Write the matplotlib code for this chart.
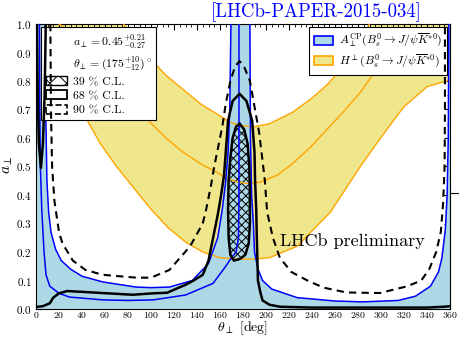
import matplotlib
matplotlib.use('Agg')
import matplotlib.pyplot as plt
from matplotlib.patches import Patch
from matplotlib.lines import Line2D
from matplotlib.ticker import MultipleLocator

plt.rcParams['font.family'] = 'serif'
plt.rcParams['font.serif'] = ['cmr10']
plt.rcParams['mathtext.fontset'] = 'cm'
plt.rcParams['axes.unicode_minus'] = False
plt.rcParams['axes.formatter.use_mathtext'] = True
plt.rcParams['hatch.linewidth'] = 0.7

# H band (yellow): upper edge, central value, lower edge
theta_Hup = [0, 76, 87, 99, 113, 128, 143, 157, 169, 178, 190, 203, 223, 240, 253, 265, 278, 290, 360]
a_Hup = [1.0, 1.0, 0.95, 0.88, 0.82, 0.77, 0.72, 0.685, 0.655, 0.643, 0.64, 0.65, 0.69, 0.74, 0.786, 0.84, 0.91, 1.0, 1.0]
theta_Hmid = [20, 35, 50, 64, 78, 98, 113, 128, 143, 157, 168, 176, 185, 195, 210, 223, 238, 253, 268, 282, 296, 315, 335, 360]
a_Hmid = [1.0, 0.96, 0.91, 0.84, 0.76, 0.66, 0.60, 0.55, 0.51, 0.48, 0.455, 0.445, 0.44, 0.445, 0.47, 0.51, 0.565, 0.63, 0.695, 0.76, 0.84, 0.91, 0.96, 0.99]
theta_Hlow = [8, 20, 30, 42, 56, 70, 84, 100, 115, 130, 145, 160, 175, 190, 203, 227, 256, 282, 305, 320, 340, 357, 360]
a_Hlow = [1.0, 0.87, 0.78, 0.68, 0.58, 0.5, 0.43, 0.35, 0.285, 0.235, 0.2, 0.18, 0.175, 0.175, 0.18, 0.22, 0.34, 0.5, 0.63, 0.71, 0.78, 0.80, 0.80]

# A_CP contours (blue)
theta_L1 = [8, 8.3, 8.7, 9.5, 11, 13, 17, 22, 30, 40, 58, 87, 100, 116, 136, 150, 158, 162, 165, 167, 168.5, 169.5]
a_L1 = [1.0, 0.8, 0.64, 0.45, 0.34, 0.27, 0.21, 0.17, 0.14, 0.115, 0.095, 0.077, 0.075, 0.077, 0.10, 0.16, 0.25, 0.35, 0.45, 0.55, 0.7, 1.0]
theta_L2 = [3, 3.3, 3.8, 5, 7, 8.7, 12, 20, 29, 58, 80, 102, 130, 154, 165, 170, 174, 176, 176.5, 176.5]
a_L2 = [1.0, 0.7, 0.5, 0.35, 0.2, 0.12, 0.08, 0.055, 0.042, 0.032, 0.03, 0.032, 0.049, 0.09, 0.15, 0.18, 0.2, 0.25, 0.4, 1.0]
theta_R1 = [186, 186.5, 187.5, 189, 190, 193, 197, 205, 227, 260, 284, 315, 330, 343, 350, 353, 356, 357.5, 358.5, 359]
a_R1 = [1.0, 0.6, 0.4, 0.3, 0.2, 0.14, 0.1, 0.07, 0.04, 0.028, 0.025, 0.03, 0.045, 0.08, 0.13, 0.18, 0.28, 0.4, 0.6, 1.0]

# likelihood contours
theta_39 = [177, 181, 184, 185.5, 186, 186, 185, 182, 177, 172, 169, 167.5, 167, 167.5, 169, 171, 174, 177]
a_39 = [0.65, 0.63, 0.58, 0.5, 0.4, 0.3, 0.23, 0.19, 0.175, 0.17, 0.19, 0.25, 0.35, 0.45, 0.53, 0.6, 0.64, 0.65]
theta_68 = [0, 6, 12, 15, 20, 27, 41, 58, 84, 102, 114, 130, 137, 145, 150, 154, 158, 161, 163.5, 165, 167, 171, 177, 183, 188, 190, 190.5, 191.5, 192, 193, 195, 197, 203, 212, 240, 300, 340, 355, 360]
a_68 = [0.007, 0.01, 0.02, 0.04, 0.055, 0.063, 0.06, 0.056, 0.05, 0.055, 0.057, 0.085, 0.1, 0.12, 0.17, 0.25, 0.33, 0.4, 0.47, 0.55, 0.66, 0.73, 0.755, 0.73, 0.66, 0.55, 0.45, 0.35, 0.25, 0.1, 0.06, 0.03, 0.015, 0.008, 0.005, 0.005, 0.005, 0.008, 0.01]
theta_68v = [0.8, 1.5, 2.5, 4.3, 6, 7.5, 8.5]
a_68v = [1.0, 0.75, 0.58, 0.495, 0.58, 0.75, 1.0]
theta_90 = [12.5, 13, 14, 16, 20, 23, 32, 43, 58, 87, 100, 116, 134, 145, 148, 152, 155, 159, 162, 165, 169, 173, 177, 181, 186, 190, 194, 197, 199, 201, 206, 212, 222, 236, 250, 270, 299, 323, 335, 342, 348, 352, 354, 355.3, 355.6, 355.6]
a_90 = [1.0, 0.7, 0.5, 0.38, 0.27, 0.23, 0.17, 0.137, 0.12, 0.11, 0.11, 0.137, 0.22, 0.3, 0.35, 0.43, 0.5, 0.58, 0.64, 0.72, 0.8, 0.85, 0.87, 0.85, 0.8, 0.71, 0.62, 0.52, 0.45, 0.34, 0.25, 0.18, 0.13, 0.1, 0.075, 0.058, 0.056, 0.08, 0.1, 0.14, 0.2, 0.27, 0.37, 0.5, 0.7, 1.0]

c_blue_fill = '#add8e6'
c_yellow = '#f0e68c'
c_orange = '#ffa500'

fig = plt.figure(figsize=(4.59, 3.38), dpi=100)
ax = fig.add_axes([36/459, 29/338, 414/459, 285/338])

# yellow band
band_x = theta_Hup + theta_Hlow[::-1]
band_y = a_Hup + a_Hlow[::-1]
ax.fill(band_x, band_y, color=c_yellow, lw=0, zorder=1)

# blue allowed region = everything except the two U-shaped holes
blue_x = [0, 360, 360] + theta_R1[::-1] + theta_L1[::-1] + [0]
blue_y = [0, 0, 1] + a_R1[::-1] + a_L1[::-1] + [1]
ax.fill(blue_x, blue_y, color=c_blue_fill, lw=0, zorder=2)

ax.fill(theta_39, a_39, facecolor='none', edgecolor='black', hatch='xxxx', lw=0, zorder=3)

# band edges (skip the parts lying on the top spine)
ax.plot(theta_Hup[1:-1], a_Hup[1:-1], color=c_orange, lw=1.0, zorder=4)
ax.plot(theta_Hmid, a_Hmid, color=c_orange, lw=1.0, zorder=4)
ax.plot(theta_Hlow, a_Hlow, color=c_orange, lw=1.0, zorder=4)
for th, aa in [(theta_L1, a_L1), (theta_L2, a_L2), (theta_R1, a_R1)]:
    ax.plot(th, aa, color='blue', lw=1.1, zorder=5)

ax.plot(theta_39, a_39, color='black', lw=1.8, zorder=6)
ax.plot(theta_68, a_68, color='black', lw=1.8, zorder=6)
ax.plot(theta_68v, a_68v, color='black', lw=1.8, zorder=6)
ax.plot(theta_90, a_90, color='black', lw=1.5, ls=(0, (3.5, 2.5)), zorder=6)

ax.set_xlim(0, 360)
ax.set_ylim(0, 1)
ax.xaxis.set_major_locator(MultipleLocator(20))
ax.xaxis.set_minor_locator(MultipleLocator(5))
ax.yaxis.set_major_locator(MultipleLocator(0.1))
ax.yaxis.set_minor_locator(MultipleLocator(0.05))
ax.tick_params(which='both', direction='in', top=True, right=True)
ax.tick_params(which='major', length=4)
ax.tick_params(which='minor', length=2)
ax.tick_params(axis='y', labelsize=8, pad=3)
ax.tick_params(axis='x', labelsize=7, pad=1)

ax.text(275, 0.24, 'LHCb preliminary', fontsize=13, ha='center', va='center', zorder=7)

fig.text(316/459, 1 - 12/338, '[LHCb-PAPER-2015-034]', color='blue', fontsize=13.5, ha='center', va='center')
fig.text(8/459, 1 - 165/338, r'$a_\perp$', rotation=90, fontsize=11, ha='center', va='center')
fig.text(242/459, 1/338, r'$\theta_\perp$ [deg]', fontsize=10, ha='center', va='bottom')
fig.add_artist(Line2D([450/459, 1.0], [1 - 193/338] * 2, color='black', lw=0.8))

# legends
none = Line2D([], [], color='none')
h1 = [none, none,
      Patch(facecolor='white', edgecolor='black', hatch='xx', lw=1.0),
      Patch(facecolor='white', edgecolor='black', lw=1.3),
      Patch(facecolor='white', edgecolor='black', lw=1.2, ls='--')]
l1 = [r'$a_\perp = 0.45^{+0.21}_{-0.27}$', r'$\theta_\perp = (175^{+10}_{-12})^\circ$',
      '39 % C.L.', '68 % C.L.', '90 % C.L.']
leg1 = ax.legend(h1, l1, loc='upper left', bbox_to_anchor=(0.012, 0.988), borderaxespad=0,
                 fontsize=8.5, fancybox=False, edgecolor='black', framealpha=1,
                 handlelength=1.8, handleheight=0.8, handletextpad=0.5, labelspacing=0.3)
leg1.get_frame().set_linewidth(0.8)
ax.add_artist(leg1)

h2 = [Patch(facecolor=c_blue_fill, edgecolor='blue', lw=1.2),
      Patch(facecolor=c_yellow, edgecolor=c_orange, lw=1.2)]
l2 = [r'$A_\perp^{\rm CP}(B_s^0\to J/\psi\overline{K}^{*0})$',
      r'$H^\perp(B_s^0\to J/\psi\overline{K}^{*0})$']
leg2 = ax.legend(h2, l2, loc='upper right', bbox_to_anchor=(0.993, 0.988), borderaxespad=0,
                 fontsize=8.5, fancybox=False, edgecolor='black', framealpha=1,
                 handlelength=1.6, handleheight=0.8, handletextpad=0.5, labelspacing=0.3)
leg2.get_frame().set_linewidth(0.8)

fig.savefig('out.png', dpi=100)
